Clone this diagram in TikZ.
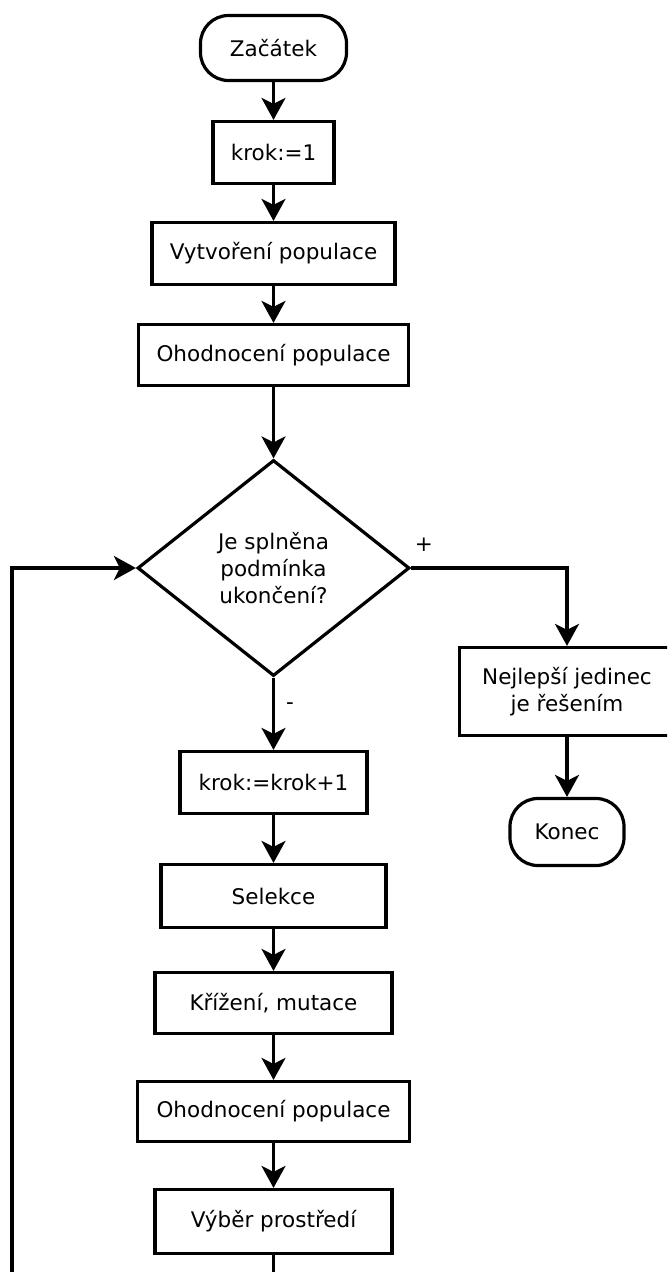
\documentclass[tikz,border=0pt]{standalone}
\usepackage{fontspec}
\setmainfont{DejaVu Sans}
\usetikzlibrary{shapes.geometric,arrows.meta}
\begin{document}
\begin{tikzpicture}[x=1pt,y=-1pt,
  every node/.style={font=\fontsize{21.5}{27}\selectfont},
  box/.style={draw, line width=3.2pt, inner sep=0pt, align=center},
  term/.style={box, rounded corners=28pt},
  conn/.style={line width=3.2pt, -{Stealth[length=22pt,width=24pt,inset=6pt]}},
  plain/.style={line width=3.2pt}]
\useasboundingbox (0,0) rectangle (667,1272);
\clip (0,0) rectangle (667,1272);
\node[term, minimum width=146pt, minimum height=65pt] (start) at (273.5,48) {Začátek};
\node[box, minimum width=121pt, minimum height=62pt] (k1) at (273.5,152.5) {krok:=1};
\node[box, minimum width=243pt, minimum height=62pt] (vyt) at (273.5,253.5) {Vytvoření populace};
\node[box, minimum width=270pt, minimum height=61pt] (oh1) at (273.5,355) {Ohodnocení populace};
\node[box, shape=diamond, minimum width=272pt, minimum height=216pt] (dia) at (273.5,568) {Je splněna\\podmínka\\ukončení?};
\node[box, minimum width=215pt, minimum height=88pt] (best) at (567,691.5) {Nejlepší jedinec\\je řešením};
\node[term, minimum width=114pt, minimum height=67pt] (konec) at (567,832) {Konec};
\node[box, minimum width=187pt, minimum height=62pt] (k2) at (273.5,782.5) {krok:=krok+1};
\node[box, minimum width=225pt, minimum height=63pt] (sel) at (273.5,896) {Selekce};
\node[box, minimum width=237pt, minimum height=61pt] (kriz) at (273.5,1003) {Křížení, mutace};
\node[box, minimum width=272pt, minimum height=60pt] (oh2) at (273.5,1111.5) {Ohodnocení populace};
\node[box, minimum width=237pt, minimum height=64pt] (vyb) at (273.5,1221.5) {Výběr prostředí};
\node (plus) at (424,545) {+};
\node (minus) at (290,706) {-};
\coordinate (mb) at (273.5,1300);
\coordinate (lb) at (12,1300);
\draw[conn] (start) -- (k1);
\draw[conn] (k1) -- (vyt);
\draw[conn] (vyt) -- (oh1);
\draw[conn] (oh1) -- (dia);
\draw[conn] (dia.east) -| (best.north);
\draw[conn] (best) -- (konec);
\draw[conn] (dia.south) -- (k2.north);
\draw[conn] (k2) -- (sel);
\draw[conn] (sel) -- (kriz);
\draw[conn] (kriz) -- (oh2);
\draw[conn] (oh2) -- (vyb);
\draw[conn] (vyb.south) -- (mb) -- (lb) |- (dia.west);
\end{tikzpicture}
\end{document}
